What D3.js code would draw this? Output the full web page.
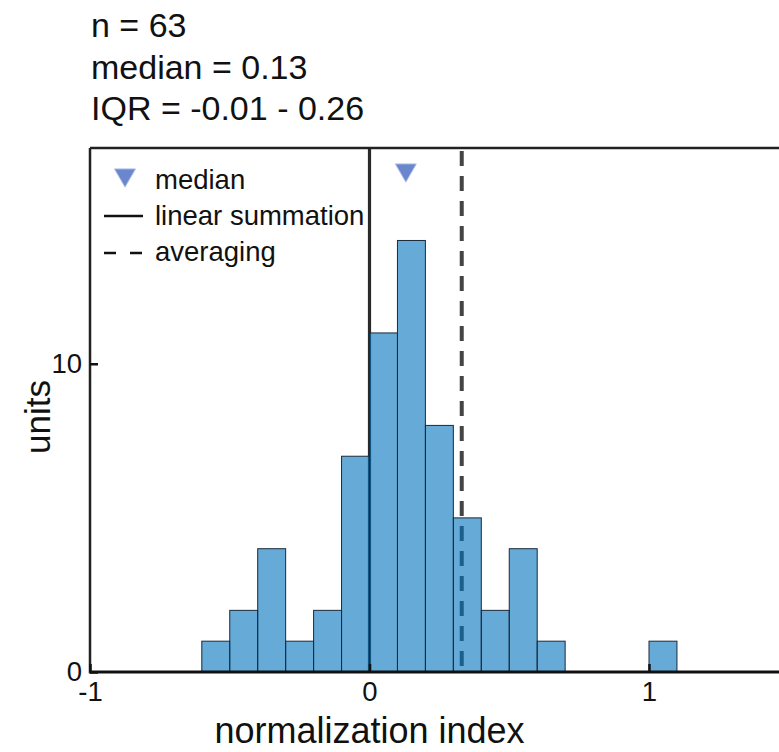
<!DOCTYPE html>
<html><head><meta charset="utf-8">
<script src="https://cdn.jsdelivr.net/npm/d3@7"></script>
<style>body{margin:0;background:#fff}svg{display:block}text{font-family:"Liberation Sans",Arial,Helvetica,sans-serif}</style>
</head><body>
<script>
const binStarts = [-0.6,-0.5,-0.4,-0.3,-0.2,-0.1,0.0,0.1,0.2,0.3,0.4,0.5,0.6,0.7,0.8,0.9,1.0];
const counts    = [1,2,4,1,2,7,11,14,8,5,2,4,1,0,0,0,1];
const binWidth = 0.1;
const statsLines = ["n = 63","median = 0.13","IQR = -0.01 - 0.26"];
const medianValue = 0.13;
const linearSumValue = 0;
const averagingValue = 0.33;
const xTicks = [-1,0,1];
const yTicks = [0,10];
const legendItems = ["median","linear summation","averaging"];

const W=779,H=752;
const svg=d3.select("body").append("svg").attr("width",W).attr("height",H);
const x=d3.scaleLinear().domain([-1,1.5]).range([90,788.75]);
const y=d3.scaleLinear().domain([0,17]).range([672,148]);

// stats text
svg.selectAll("text.stat").data(statsLines).join("text").attr("class","stat")
  .attr("x",91).attr("y",(d,i)=>37+i*41.5).attr("font-size",34).attr("fill","#111").text(d=>d);

// reference lines (behind bars)
svg.append("line").attr("x1",x(linearSumValue)).attr("x2",x(linearSumValue)).attr("y1",y(17)).attr("y2",y(0))
  .attr("stroke","#2a2a2a").attr("stroke-width",3.2);
svg.append("line").attr("x1",x(averagingValue)).attr("x2",x(averagingValue)).attr("y1",y(17)+3).attr("y2",y(0))
  .attr("stroke","#444").attr("stroke-width",4).attr("stroke-dasharray","15,10");

// bars
const bars=binStarts.map((b,i)=>({x0:b,x1:b+binWidth,c:counts[i]})).filter(d=>d.c>0);
svg.selectAll("rect.bar").data(bars).join("rect").attr("class","bar")
  .attr("x",d=>x(d.x0)).attr("width",d=>x(d.x1)-x(d.x0))
  .attr("y",d=>y(d.c)).attr("height",d=>y(0)-y(d.c))
  .attr("fill","#0072BD").attr("fill-opacity",0.6)
  .attr("stroke","#1a2a3a").attr("stroke-width",1);

// axes spines
svg.append("line").attr("x1",x(-1)).attr("x2",W).attr("y1",y(17)).attr("y2",y(17)).attr("stroke","#222").attr("stroke-width",2.5);
svg.append("line").attr("x1",x(-1)).attr("x2",W).attr("y1",y(0)).attr("y2",y(0)).attr("stroke","#111").attr("stroke-width",3);
svg.append("line").attr("x1",x(-1)).attr("x2",x(-1)).attr("y1",y(17)).attr("y2",y(0)+1.5).attr("stroke","#222").attr("stroke-width",2.5);

// ticks
const xa=d3.axisBottom(x).tickValues(xTicks).tickSize(-8).tickPadding(9).tickFormat(d3.format("d"));
const gx=svg.append("g").attr("transform",`translate(0,${y(0)})`).call(xa);
gx.select(".domain").remove();
gx.selectAll(".tick line").attr("stroke","#111").attr("stroke-width",2.5);
gx.selectAll(".tick text").attr("font-size",27.5).attr("fill","#111").attr("font-family","Liberation Sans, Arial, sans-serif")
  .text(d=>d<0?"-"+Math.abs(d):d);
const ya=d3.axisLeft(y).tickValues(yTicks).tickSize(-8).tickPadding(8).tickFormat(d3.format("d"));
const gy=svg.append("g").attr("transform",`translate(${x(-1)},0)`).call(ya);
gy.select(".domain").remove();
gy.selectAll(".tick line").attr("stroke","#111").attr("stroke-width",2.5);
gy.selectAll(".tick text").attr("font-size",27.5).attr("fill","#111").attr("font-family","Liberation Sans, Arial, sans-serif");

// axis labels
svg.append("text").attr("x",x(0)).attr("y",743).attr("text-anchor","middle").attr("font-size",36).attr("fill","#111").text("normalization index");
svg.append("text").attr("transform",`translate(50,417) rotate(-90)`).attr("text-anchor","middle").attr("font-size",35).attr("fill","#111").text("units");

// median marker
const tri=d3.symbol().type(d3.symbolTriangle).size(190);
svg.append("path").attr("d",tri()).attr("transform",`translate(${x(medianValue)},170) rotate(180)`)
  .attr("fill","#6a86cc").attr("stroke","#a9bde8").attr("stroke-width",1);

// legend
const lg=svg.append("g");
lg.append("path").attr("d",tri()).attr("transform",`translate(125,175) rotate(180)`)
  .attr("fill","#6a86cc").attr("stroke","#a9bde8").attr("stroke-width",1);
lg.append("line").attr("x1",104).attr("x2",143).attr("y1",216).attr("y2",216).attr("stroke","#111").attr("stroke-width",2.5);
lg.append("line").attr("x1",104).attr("x2",143).attr("y1",253).attr("y2",253).attr("stroke","#111").attr("stroke-width",2.5).attr("stroke-dasharray","12,14");
lg.selectAll("text").data(legendItems).join("text").attr("x",155).attr("y",(d,i)=>189+i*36)
  .attr("font-size",27.5).attr("fill","#111").text(d=>d);
</script>
</body></html>
